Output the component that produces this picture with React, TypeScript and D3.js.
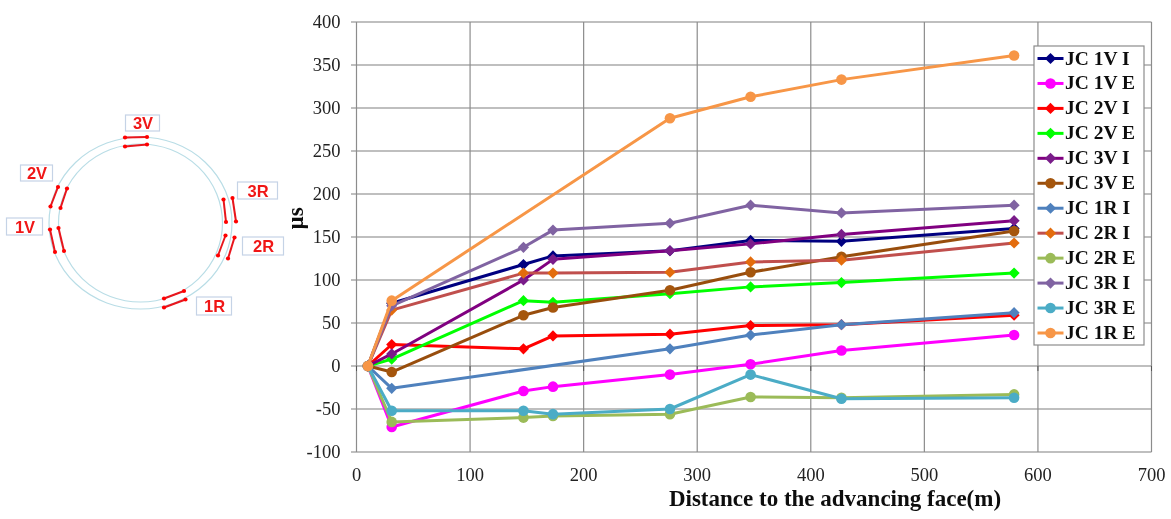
import React from "react";
import * as d3 from "d3";

const distances = [10, 31, 147, 173, 276, 347, 427, 579];
const xTicks = [0, 100, 200, 300, 400, 500, 600, 700];
const yTicks = [-100, -50, 0, 50, 100, 150, 200, 250, 300, 350, 400];

const jc1VI = [0, 73, 118, 128, 134, 146, 145, 160];
const jc1VE = [0, -71, -29, -24, -10, 2, 18, 36];
const jc2VI = [0, 25, 20, 35, 37, 47, 48, 59];
const jc2VE = [0, 8, 76, 74, 84, 92, 97, 108];
const jc3VI = [0, 14, 100, 124, 134, 142, 153, 169];
const jc3VE = [0, -7, 59, 68, 88, 109, 127, 157];
const jc1RI = [0, -26, null, null, 20, 36, 48, 62];
const jc2RI = [0, 65, 108, 108, 109, 121, 123, 143];
const jc2RE = [0, -65, -60, -58, -56, -36, -37, -33];
const jc3RI = [0, 70, 138, 158, 166, 187, 178, 187];
const jc3RE = [0, -52, -52, -56, -50, -10, -38, -37];
const jc1RE = [0, 76, null, null, 288, 313, 333, 361];

const seriesNames = ["JC 1V I", "JC 1V E", "JC 2V I", "JC 2V E", "JC 3V I", "JC 3V E", "JC 1R I", "JC 2R I", "JC 2R E", "JC 3R I", "JC 3R E", "JC 1R E"];
const seriesValues = [jc1VI, jc1VE, jc2VI, jc2VE, jc3VI, jc3VE, jc1RI, jc2RI, jc2RE, jc3RI, jc3RE, jc1RE];
const lineColors = ["#000080", "#ff00ff", "#ff0000", "#00ff00", "#800080", "#984e0c", "#4f81bd", "#c0504d", "#9bbb59", "#8064a2", "#4bacc6", "#f79646"];
const markerFills = ["#000080", "#ff00ff", "#ff0000", "#00ff00", "#7a1f8a", "#a5560f", "#4f81bd", "#e36c0a", "#9bbb59", "#8064a2", "#4bacc6", "#f79646"];
const markerShapes = ["d", "c", "d", "d", "d", "c", "d", "d", "c", "d", "c", "c"];

const gaugeLabels = ["3V", "2V", "1V", "3R", "2R", "1R"];
const gaugeLabelBoxes = [[126, 115, 34, 16], [21, 165, 32, 16], [7, 218, 36, 17], [238, 182, 40, 17], [243, 237, 41, 18], [197, 297, 35, 18]];
const gaugeSegments = [
  [[125, 137.5], [147, 137]], [[125, 146.5], [147, 144.5]],
  [[58, 187], [50.5, 206.5]], [[67, 188.5], [60.5, 208]],
  [[50, 229.5], [55, 252]], [[58.5, 228], [64, 251]],
  [[223.5, 199.5], [226, 222]], [[232.5, 198], [236, 221.5]],
  [[225.5, 235.5], [218, 255.5]], [[234.5, 237.5], [228, 258.5]],
  [[184, 291], [164, 298.5]], [[185.5, 299.5], [164, 307.5]],
];

const W = 1171, H = 519;
const SERIF = "'Liberation Serif', serif";
const ARIAL = "'Liberation Sans', sans-serif";
const R = 5.6;

export default function App() {
  const x = d3.scaleLinear().domain([0, 700]).range([356.5, 1151.5]);
  const y = d3.scaleLinear().domain([-100, 400]).range([452, 22]);
  const lineGen = d3.line<[number, number | null]>()
    .x((d) => x(d[0]))
    .y((d) => y(d[1] as number));
  const marker = (shape: string, cx: number, cy: number, fill: string, key: any) =>
    shape === "c" ? (
      <circle key={key} cx={cx} cy={cy} r={5.3} fill={fill} />
    ) : (
      <path key={key} transform={`translate(${cx},${cy})`} d={`M0,${-R}L${R},0L0,${R}L${-R},0Z`} fill={fill} />
    );
  const legendY = d3.scalePoint<number>().domain(d3.range(12)).range([58.5, 333]);

  return (
    <svg width={W} height={H} viewBox={`0 0 ${W} ${H}`} style={{ position: "absolute", left: 0, top: 0, background: "#fff" }}>
      <defs>
        <filter id="soft" x="-2%" y="-2%" width="104%" height="104%">
          <feGaussianBlur stdDeviation="0.45" />
        </filter>
      </defs>
      <g filter="url(#soft)">
        {/* Ring diagram */}
        <ellipse cx={140.5} cy={223} rx={91.5} ry={86} fill="none" stroke="#b9dde6" strokeWidth={1.2} />
        <ellipse cx={140.5} cy={223} rx={82} ry={79} fill="none" stroke="#b9dde6" strokeWidth={1.2} />
        {gaugeSegments.map((s, i) => (
          <g key={i}>
            <line x1={s[0][0]} y1={s[0][1]} x2={s[1][0]} y2={s[1][1]} stroke="#e8141c" strokeWidth={2} />
            <circle cx={s[0][0]} cy={s[0][1]} r={2.1} fill="#ff0000" />
            <circle cx={s[1][0]} cy={s[1][1]} r={2.1} fill="#ff0000" />
          </g>
        ))}
        {gaugeLabels.map((t, i) => {
          const b = gaugeLabelBoxes[i];
          return (
            <g key={t}>
              <rect x={b[0] - 0.5} y={b[1]} width={b[2]} height={b[3]} fill="#fff" stroke="#c5d3e6" strokeWidth={1.2} />
              <text x={b[0] + b[2] / 2} y={b[1] + b[3] / 2 + 6} textAnchor="middle" fontFamily={ARIAL} fontSize={16.5} fontWeight={700} fill="#f01818">{t}</text>
            </g>
          );
        })}

        {/* Grid */}
        {yTicks.map((t) => (
          <line key={t} x1={351} x2={1151.5} y1={y(t)} y2={y(t)} stroke="#808080" strokeWidth={1.1} />
        ))}
        {xTicks.map((t) => (
          <line key={t} x1={x(t)} x2={x(t)} y1={22} y2={452} stroke="#8c8c8c" strokeWidth={1.2} />
        ))}
        {xTicks.map((t) => (
          <line key={"z" + t} x1={x(t)} x2={x(t)} y1={366} y2={371} stroke="#555" strokeWidth={1} />
        ))}

        {/* Tick labels */}
        {yTicks.map((t) => (
          <text key={t} x={340.5} y={y(t) + 6} textAnchor="end" fontFamily={SERIF} fontSize={18.5} fill="#222">{t}</text>
        ))}
        {xTicks.map((t) => (
          <text key={t} x={x(t)} y={481} textAnchor="middle" fontFamily={SERIF} fontSize={18.5} fill="#222">{t}</text>
        ))}
        <text transform="translate(303,218.5) rotate(-90)" textAnchor="middle" fontFamily={SERIF} fontSize={23} fontWeight={700} fill="#111">µs</text>
        <text x={835} y={506} textAnchor="middle" fontFamily={SERIF} fontSize={23} fontWeight={700} fill="#111">Distance to the advancing face(m)</text>

        {/* Series */}
        {seriesValues.map((vals, i) => {
          const pts = distances.map((d, k) => [d, vals[k]] as [number, number | null]).filter((p) => p[1] !== null);
          return (
            <g key={seriesNames[i]}>
              <path d={lineGen(pts) as string} fill="none" stroke={lineColors[i]} strokeWidth={3} strokeLinejoin="round" />
              {pts.map((p, k) => marker(markerShapes[i], x(p[0]), y(p[1] as number), markerFills[i], k))}
            </g>
          );
        })}

        {/* Legend */}
        <rect x={1034} y={46} width={110} height={299} fill="#fff" stroke="#8c8c8c" strokeWidth={1.2} />
        {seriesNames.map((n, i) => {
          const ly = legendY(i) as number;
          return (
            <g key={n}>
              <line x1={1037.5} x2={1063.5} y1={ly} y2={ly} stroke={lineColors[i]} strokeWidth={3} />
              {marker(markerShapes[i], 1050.5, ly, markerFills[i], "m")}
              <text x={1065} y={ly + 6} fontFamily={SERIF} fontSize={19.5} fontWeight={700} fill="#111">{n}</text>
            </g>
          );
        })}
      </g>
    </svg>
  );
}
